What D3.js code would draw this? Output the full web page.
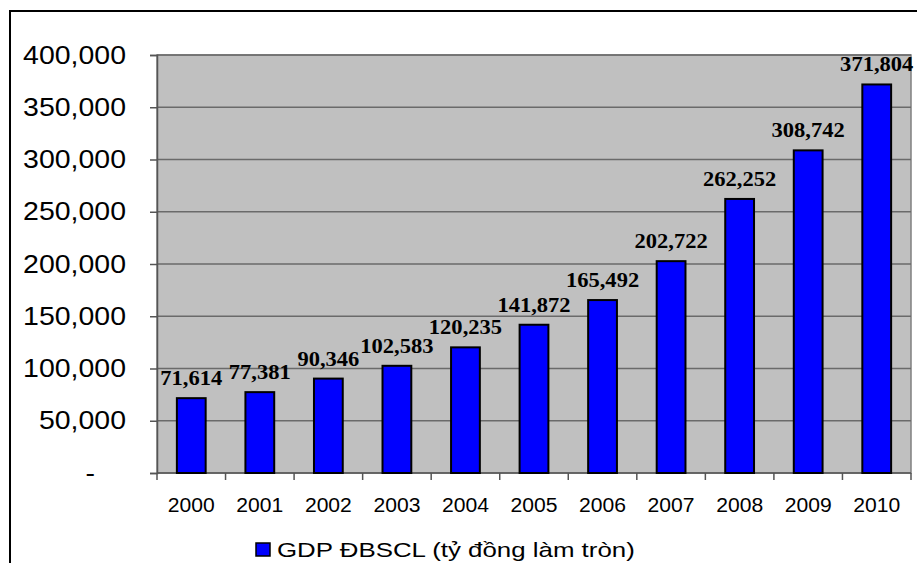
<!DOCTYPE html>
<html><head><meta charset="utf-8">
<script src="https://cdn.jsdelivr.net/npm/d3@7"></script>
<style>html,body{margin:0;padding:0;background:#fff;}svg{display:block;}</style>
</head><body>
<svg id="c" width="917" height="563"></svg>
<script>
const years = ["2000","2001","2002","2003","2004","2005","2006","2007","2008","2009","2010"];
const gdp = [71614, 77381, 90346, 102583, 120235, 141872, 165492, 202722, 262252, 308742, 371804];
const yTicks = [0, 50000, 100000, 150000, 200000, 250000, 300000, 350000, 400000];
const seriesName = "GDP ĐBSCL (tỷ đồng làm tròn)";

const SANS = "'Liberation Sans', Arial, sans-serif";
const SERIF = "'Liberation Serif', 'Times New Roman', serif";

const svg = d3.select("#c");
const m = {left:157, top:55, right:911, bottom:473};

// horizontal fit helper: width a sample string should have
function measure(str, family, size, weight){
  const t = svg.append("text").attr("font-family",family).attr("font-size",size)
    .attr("font-weight",weight||"normal").text(str);
  const w = t.node().getComputedTextLength(); t.remove(); return w;
}
const sxY = 103 / measure("400,000", SANS, 25.5);
const sxX = 47 / measure("2000", SANS, 21);
const sxL = 62 / measure("71,614", SERIF, 20, "bold");
const sxLeg = 358 / measure(seriesName, SANS, 21);

// outer chart border
svg.append("rect").attr("x",10).attr("y",11).attr("width",930).attr("height",600)
  .attr("fill","#fff").attr("stroke","#000").attr("stroke-width",2);

const x = d3.scaleBand().domain(years).range([m.left, m.right]).paddingInner(0.58).paddingOuter(0.29);
const xb = d3.scaleBand().domain(years).range([m.left, m.right]);
const y = d3.scaleLinear().domain([0,400000]).range([m.bottom, m.top]);

// plot area
svg.append("rect").attr("x",m.left).attr("y",m.top).attr("width",m.right-m.left).attr("height",m.bottom-m.top)
  .attr("fill","#c0c0c0").attr("stroke","#808080").attr("stroke-width",1.5);

// gridlines
svg.append("g").selectAll("line").data(yTicks.filter(d=>d>0)).join("line")
  .attr("x1",m.left).attr("x2",m.right).attr("y1",d=>y(d)).attr("y2",d=>y(d))
  .attr("stroke","#6a6a6a").attr("stroke-width",1.5);

// y axis
const fmt = d3.format(",");
const ya = svg.append("g").attr("transform",`translate(${m.left},0)`)
  .call(d3.axisLeft(y).tickValues(yTicks).tickSize(7).tickFormat(d=>d===0?"-":fmt(d)));
ya.select(".domain").attr("stroke","#555").attr("stroke-width",1.5);
ya.selectAll(".tick line").attr("stroke","#555").attr("stroke-width",1.5);
ya.selectAll(".tick text").attr("font-family",SANS).attr("font-size",25.5).attr("fill","#000")
  .attr("x",0).attr("text-anchor","end")
  .attr("transform",d=>`translate(${d===0?-62:-31},0) scale(${sxY},1)`);

// x axis
const xa = svg.append("g").attr("transform",`translate(0,${m.bottom})`);
xa.append("line").attr("x1",m.left).attr("x2",m.right).attr("y1",0).attr("y2",0)
  .attr("stroke","#555").attr("stroke-width",1.5);
xa.selectAll("line.t").data(years.concat(["end"])).join("line").attr("class","t")
  .attr("x1",(d,i)=>i<years.length? xb(d): m.right).attr("x2",(d,i)=>i<years.length? xb(d): m.right)
  .attr("y1",0).attr("y2",7).attr("stroke","#555").attr("stroke-width",1.5);
xa.selectAll("text").data(years).join("text")
  .attr("transform",d=>`translate(${xb(d)+xb.bandwidth()/2},39) scale(${sxX},1)`)
  .attr("text-anchor","middle")
  .attr("font-family",SANS).attr("font-size",21).attr("fill","#000")
  .text(d=>d);

// bars
svg.append("g").selectAll("rect").data(gdp).join("rect")
  .attr("x",(d,i)=>x(years[i])).attr("width",x.bandwidth())
  .attr("y",d=>y(d)).attr("height",d=>m.bottom-y(d))
  .attr("fill","#0000ff").attr("stroke","#000").attr("stroke-width",2);

// data labels
svg.append("g").selectAll("text").data(gdp).join("text")
  .attr("transform",(d,i)=>`translate(${x(years[i])+x.bandwidth()/2},${y(d)-13}) scale(${sxL},1)`)
  .attr("text-anchor","middle").attr("font-family",SERIF)
  .attr("font-weight","bold").attr("font-size",20).attr("fill","#000")
  .text(d=>fmt(d));

// legend
const lg = svg.append("g");
lg.append("rect").attr("x",256).attr("y",543).attr("width",14).attr("height",13)
  .attr("fill","#0000ff").attr("stroke","#000").attr("stroke-width",1.5);
lg.append("text").attr("transform",`translate(277,557) scale(${sxLeg},1)`)
  .attr("font-family",SANS).attr("font-size",21).attr("fill","#000").text(seriesName);
</script>
</body></html>
